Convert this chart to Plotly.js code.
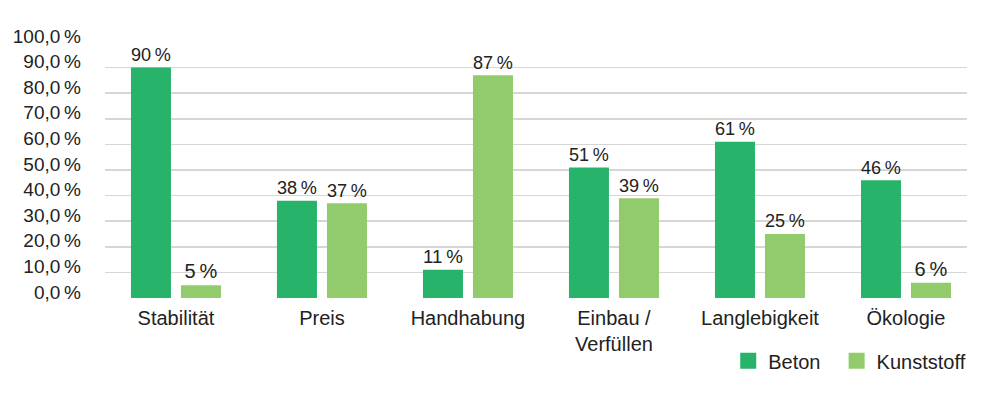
<!DOCTYPE html>
<html>
<head>
<meta charset="utf-8">
<script src="https://cdn.plot.ly/plotly-3.0.1.min.js"></script>
<style>html,body{margin:0;padding:0;background:#fff;}#chart{width:1001px;height:397px;}</style>
</head>
<body>
<div id="chart"></div>
<script>
const categories = ["Stabilität", "Preis", "Handhabung", "Einbau /<br>Verfüllen", "Langlebigkeit", "Ökologie"];
const beton = [90, 38, 11, 51, 61, 46];
const kunststoff = [5, 37, 87, 39, 25, 6];
const yTicks = [0, 10, 20, 30, 40, 50, 60, 70, 80, 90, 100];
const yTickLabels = ["0,0\u2009%", "10,0\u2009%", "20,0\u2009%", "30,0\u2009%", "40,0\u2009%", "50,0\u2009%", "60,0\u2009%", "70,0\u2009%", "80,0\u2009%", "90,0\u2009%", "100,0\u2009%"];
const seriesNames = ["Beton", "Kunststoff"];
const colors = ["#27b36a", "#92cb6b"];

const font = "Liberation Sans, Arial, Helvetica, sans-serif";
const idx = categories.map((c, i) => i);

function barTrace(vals, name, color) {
  return {
    type: "bar", x: idx, y: vals, name: name, showlegend: false,
    marker: {color: color},
    texttemplate: "%{y:.0f}\u2009%", textposition: "outside", cliponaxis: false,
    textfont: {family: font, size: 20, color: "#222"},
    hoverinfo: "skip"
  };
}
function legendTrace(name, color, pad) {
  return {
    type: "scatter", mode: "markers", x: [null], y: [null], name: name + pad,
    marker: {symbol: "square", size: 18, color: color}, showlegend: true
  };
}

const data = [
  barTrace(beton, seriesNames[0], colors[0]),
  barTrace(kunststoff, seriesNames[1], colors[1]),
  legendTrace(seriesNames[0], colors[0], "\u00a0\u00a0"),
  legendTrace(seriesNames[1], colors[1], "")
];

const layout = {
  width: 1001, height: 397,
  margin: {l: 105, r: 34, t: 42, b: 99},
  paper_bgcolor: "#fff", plot_bgcolor: "#fff",
  barmode: "group", bargap: 0.315, bargroupgap: 0.2,
  font: {family: font, size: 19, color: "#222"},
  xaxis: {
    range: [-0.486, 5.418], tickvals: idx, ticktext: categories,
    showgrid: false, zeroline: false, showline: false, ticks: "",
    tickfont: {family: font, size: 20, color: "#222"},
    ticklabelstandoff: 6, fixedrange: true
  },
  yaxis: {
    range: [0, 100], tickvals: yTicks, ticktext: yTickLabels,
    showgrid: true, gridcolor: "#d6d6d6", gridwidth: 1.7,
    zeroline: false, showline: false, ticks: "",
    tickfont: {family: font, size: 19, color: "#222"},
    ticklabelstandoff: 23, ticklabelshift: -6, fixedrange: true
  },
  showlegend: true,
  legend: {
    orientation: "h", x: 0.723, xanchor: "left", y: -0.245, yanchor: "middle",
    font: {family: font, size: 20, color: "#222"},
    bgcolor: "rgba(0,0,0,0)", borderwidth: 0, traceorder: "normal"
  }
};

Plotly.newPlot("chart", data, layout, {displayModeBar: false, staticPlot: true});
</script>
</body>
</html>
